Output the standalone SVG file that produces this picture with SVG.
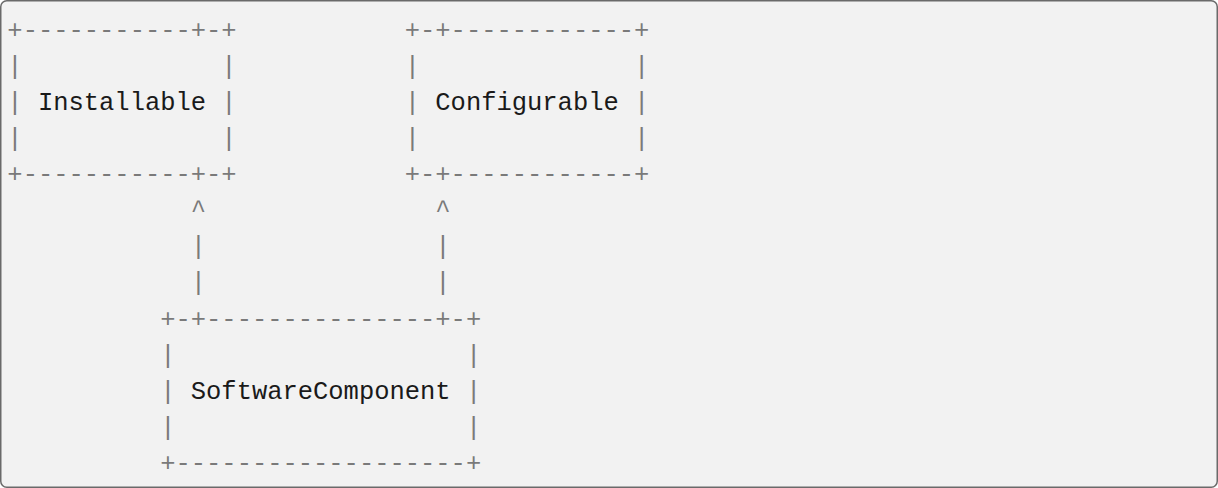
<svg xmlns="http://www.w3.org/2000/svg" width="1218" height="488" viewBox="0 0 1218 488">
<style>
text{font-family:"Liberation Mono","Cousine","DejaVu Sans Mono",monospace;font-size:25.5px}
.b{fill:#7a7a7a}
.t{fill:#1a1a1a}
</style>
<rect x="0.75" y="0.75" width="1216.5" height="486.5" rx="6" ry="6" fill="#f2f2f2" stroke="#6a6a6a" stroke-width="1.5"/>
<g id="installable">
<text class="b" x="7.36" y="37.5" textLength="229.28" lengthAdjust="spacing">+-----------+-+</text>
<text class="b" x="7.36" y="73.6">|</text><text class="b" x="221.35" y="73.6">|</text>
<text class="b" x="7.36" y="109.8">|</text><text class="t" x="37.93" y="109.8" textLength="168.14" lengthAdjust="spacing">Installable</text><text class="b" x="221.35" y="109.8">|</text>
<text class="b" x="7.36" y="145.9">|</text><text class="b" x="221.35" y="145.9">|</text>
<text class="b" x="7.36" y="182.0" textLength="229.28" lengthAdjust="spacing">+-----------+-+</text>
</g>
<g id="configurable">
<text class="b" x="404.77" y="37.5" textLength="244.56" lengthAdjust="spacing">+-+------------+</text>
<text class="b" x="404.77" y="73.6">|</text><text class="b" x="634.05" y="73.6">|</text>
<text class="b" x="404.77" y="109.8">|</text><text class="t" x="435.34" y="109.8" textLength="183.42" lengthAdjust="spacing">Configurable</text><text class="b" x="634.05" y="109.8">|</text>
<text class="b" x="404.77" y="145.9">|</text><text class="b" x="634.05" y="145.9">|</text>
<text class="b" x="404.77" y="182.0" textLength="244.56" lengthAdjust="spacing">+-+------------+</text>
</g>
<g id="connectors">
<text class="b" x="190.78" y="218.1">^</text><text class="b" x="435.34" y="218.1">^</text>
<text class="b" x="190.78" y="254.3">|</text><text class="b" x="435.34" y="254.3">|</text>
<text class="b" x="190.78" y="290.4">|</text><text class="b" x="435.34" y="290.4">|</text>
</g>
<g id="softwarecomponent">
<text class="b" x="160.21" y="326.5" textLength="320.99" lengthAdjust="spacing">+-+---------------+-+</text>
<text class="b" x="160.21" y="362.6">|</text><text class="b" x="465.91" y="362.6">|</text>
<text class="b" x="160.21" y="398.8">|</text><text class="t" x="190.78" y="398.8" textLength="259.85" lengthAdjust="spacing">SoftwareComponent</text><text class="b" x="465.91" y="398.8">|</text>
<text class="b" x="160.21" y="434.9">|</text><text class="b" x="465.91" y="434.9">|</text>
<text class="b" x="160.21" y="471.0" textLength="320.99" lengthAdjust="spacing">+-------------------+</text>
</g>
</svg>
